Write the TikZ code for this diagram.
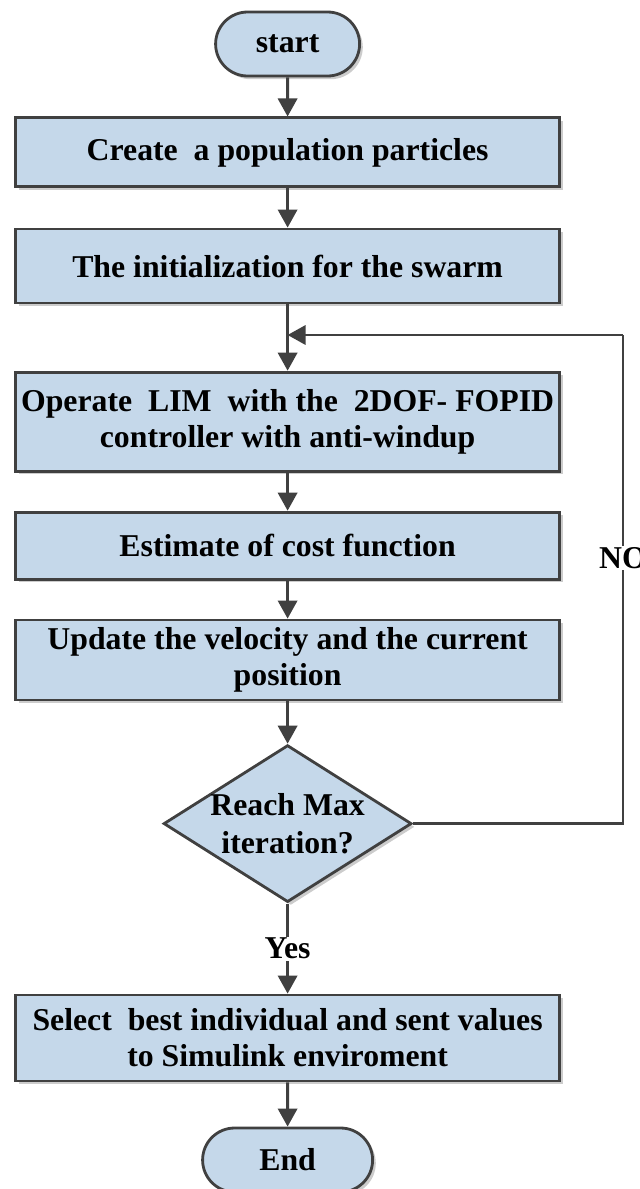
\documentclass[tikz,border=0pt]{standalone}
\usepackage{fontspec}
\setmainfont{Liberation Serif}
\usepackage{tikz}
\usetikzlibrary{positioning}
\usetikzlibrary{calc,arrows.meta,shadows}
\usetikzlibrary{shapes.misc,shapes.geometric}

\definecolor{boxblue}{RGB}{197,216,234}
\definecolor{edgegray}{RGB}{64,64,64}
\newcommand{\flowfont}{\fontsize{22.6pt}{25.6pt}\selectfont\bfseries}

\tikzset{
	block/.style={draw=edgegray, line width=2pt, fill=boxblue, align=center,
		inner sep=0pt, minimum width=13.6cm, font=\flowfont,
		drop shadow={shadow xshift=0.08cm, shadow yshift=-0.08cm, opacity=0.2, fill=black}},
	terminal/.style={block, rounded rectangle, minimum width=3.6cm, minimum height=1.6cm},
	decision/.style={block, diamond, aspect=1.58, minimum width=6.2cm, minimum height=3.925cm},
	link/.style={draw=edgegray, line width=2pt},
	flow/.style={link, -{Triangle[length=0.45cm,width=0.48cm]}},
	lbl/.style={fill=white, inner sep=1pt, font=\flowfont}
}

\begin{document}
\begin{tikzpicture}
	
	% page frame: 640 x 1189 px at 40 px per cm
	\path[use as bounding box, fill=white] (0,0) rectangle (16,-29.725);
	
	% the main axis runs down at x = 7.19cm
	\node[terminal] (start) at (7.19,-1.10) {start};
	\node[block, minimum height=1.725cm] (create) at (7.19,-3.81) {Create\ \ a population particles};
	\node[block, minimum height=1.85cm] (init) at (7.19,-6.65) {The initialization for the swarm};
	\node[block, minimum height=2.475cm] (operate) at (7.19,-10.54)
		{Operate\ \ LIM\ \ with the\ \ 2DOF- FOPID\\controller with anti-windup};
	\node[block, minimum height=1.675cm] (cost) at (7.19,-13.64) {Estimate of cost function};
	\node[block, minimum height=2.0cm] (update) at (7.19,-16.50)
		{Update the velocity and the current\\position};
	
	% diamond drawn empty, its text set on top
	\node[decision] (dec) at (7.19,-20.59) {};
	\node[font=\flowfont, align=center, inner sep=0pt] (dectext) at (dec.center) {Reach Max\\[2pt]iteration?};
	
	\node[block, minimum height=2.15cm] (select) at (7.19,-25.95)
		{Select\ \ best individual and sent values\\to Simulink enviroment};
	\node[terminal, minimum width=4.25cm] (stop) at (7.19,-29.00) {End};
	
	% loop corner and the point where it rejoins the axis
	\coordinate (turn) at (15.575,-8.375);
	\coordinate (join) at (7.19,-8.375);
	
	%%%%%%%%%%%%%%%%%%%%%%%%%%%%%%%%%%%%%%%%%%%%%%%%%%%%%%%%%%%%%%
	\draw[flow] (start) -- (create);
	\draw[flow] (create) -- (init);
	\draw[flow] (init) -- (operate);
	\draw[flow] (operate) -- (cost);
	\draw[flow] (cost) -- (update);
	\draw[flow] (update) -- (dec);
	\draw[flow] (dec.south) -- (select.north) node[lbl, midway] (yes) {Yes};
	\draw[flow] (select) -- (stop);
	
	% NO branch back to the top of the loop
	\draw[link] (dec.east) -| (turn) node[lbl, pos=0.772] (no) {NO};
	\draw[flow] (turn) -- (join);
	
\end{tikzpicture}
\end{document}
